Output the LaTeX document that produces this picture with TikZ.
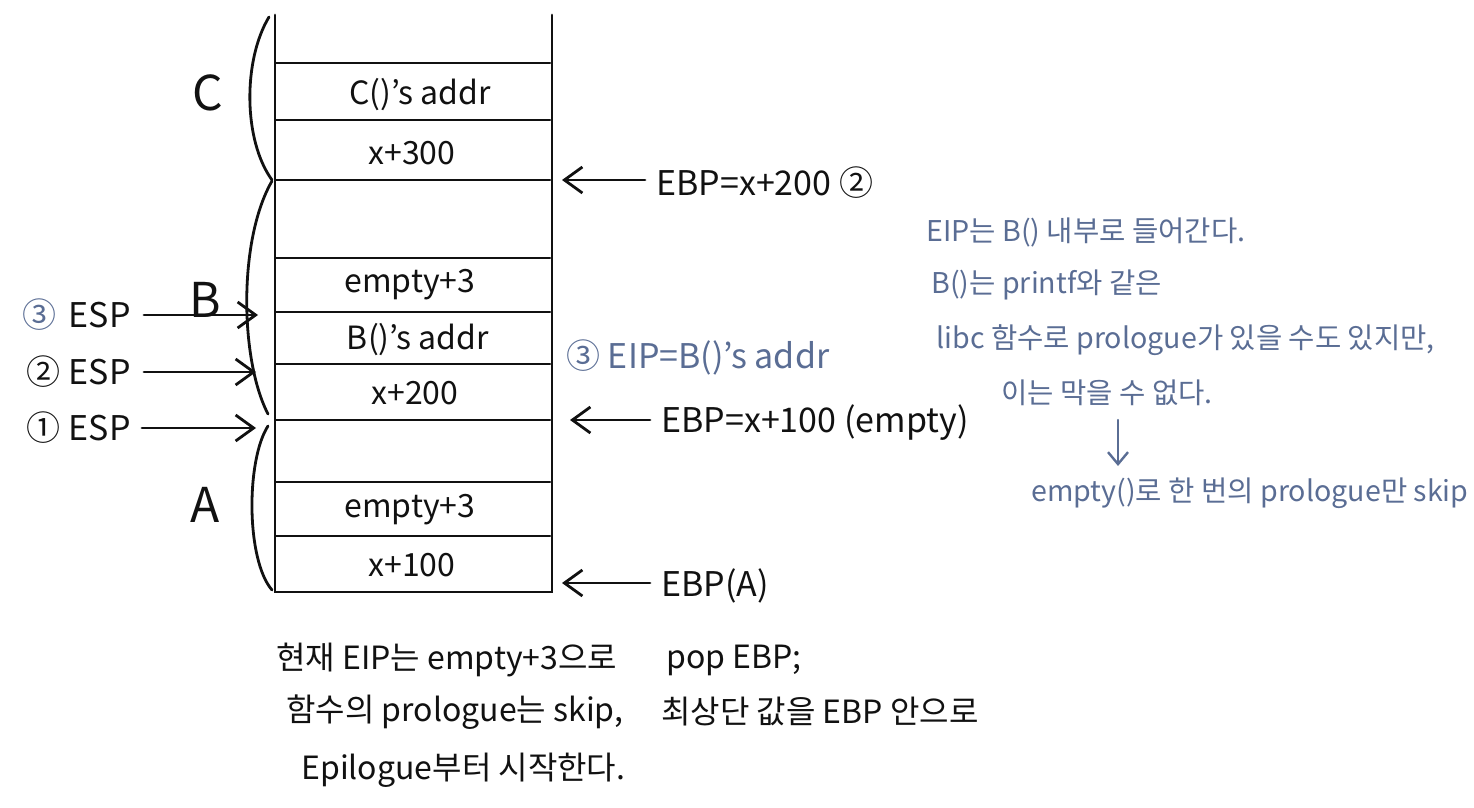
\documentclass[tikz,border=0pt]{standalone}
\usepackage{fontspec}
\setmainfont{Noto Sans CJK KR}
\usetikzlibrary{arrows.meta}
\definecolor{ink}{HTML}{111111}
\definecolor{pen}{HTML}{5A6D94}
\begin{document}
\begin{tikzpicture}[x=0.5pt,y=-0.5pt, line width=1.4pt, line cap=round, color=ink,
 cell/.style={font=\fontsize{16}{18}\selectfont, inner sep=0pt},
 lbl/.style={font=\fontsize{17}{19}\selectfont, anchor=west, inner sep=0pt},
 big/.style={font=\fontsize{24}{26}\selectfont, inner sep=0pt},
 note/.style={font=\fontsize{14.3}{16}\selectfont, anchor=west, inner sep=0pt, text=pen},
 bnote/.style={font=\fontsize{16}{18}\selectfont, anchor=west, inner sep=0pt},
 ptr/.style={-{Straight Barb[length=9pt,width=13pt]}},
]
\useasboundingbox (0,0) rectangle (1474,808);
% stack frame
\draw (275,15) -- (275,592) -- (552,592) -- (552,15);
\foreach \y in {63,120,180,258,312,364,420,482,536} \draw (276,\y) -- (550,\y);
% cells
\node[cell] (c1) at (420,95) {C()'s addr};
\node[cell] (c2) at (412,153) {x+300};
\node[cell] (c3) at (410,285) {empty+3};
\node[cell] (c4) at (418,340) {B()'s addr};
\node[cell] (c5) at (415,393) {x+200};
\node[cell] (c6) at (410,510) {empty+3};
\node[cell] (c7) at (412,565) {x+100};
% braces
\draw (269,17) .. controls (243,60) and (243,140) .. (272,180);
\draw (272,181) .. controls (238,240) and (240,360) .. (268,414);
\draw (268,426) .. controls (246,460) and (246,560) .. (272,590);
\node[big] (lc) at (208,93) {C};
\node[big] (lb) at (205,300) {B};
\node[big] (la) at (205,505) {A};
% ESP pointers
\coordinate (s3) at (258,315);
\coordinate (s2) at (256,372);
\coordinate (s1) at (256,428);
\node[lbl, anchor=east] (esp3) at (132,315) {{\color{pen}③}\hspace{6pt}ESP};
\node[lbl, anchor=east] (esp2) at (132,372) {②\hspace{4pt}ESP};
\node[lbl, anchor=east] (esp1) at (132,428) {①\hspace{4pt}ESP};
\draw[ptr, shorten <=6pt] (esp3) -- (s3);
\draw[ptr, shorten <=6pt] (esp2) -- (s2);
\draw[ptr, shorten <=5pt] (esp1) -- (s1);
% EBP pointers
\coordinate (t2) at (562,180);
\coordinate (t1) at (570,420);
\coordinate (t0) at (562,583);
\node[lbl] (ebp2) at (655,183) {EBP=x+200 ②};
\node[lbl] (ebp1) at (660,423) {EBP=x+100 (empty)};
\node[lbl] (ebpa) at (660,586) {EBP(A)};
\draw[ptr, shorten <=5pt] (ebp2.west |- t2) -- (t2);
\draw[ptr, shorten <=5pt] (ebp1.west |- t1) -- (t1);
\draw[ptr, shorten <=5pt] (ebpa.west |- t0) -- (t0);
\node[lbl, text=pen] (eip) at (565,357) {③ EIP=B()'s addr};
% blue notes
\node[note] (n1) at (925,232) {EIP는 B() 내부로 들어간다.};
\node[note] (n2) at (930,285) {B()는 printf와 같은};
\node[note] (n3) at (935,340) {libc 함수로 prologue가 있을 수도 있지만,};
\node[note] (n4) at (1000,393) {이는 막을 수 없다.};
\node[note] (n5) at (1030,493) {empty()로 한 번의 prologue만 skip};
\coordinate (d1) at (1118,420);
\coordinate (d2) at (1118,466);
\draw[ptr, pen, line width=1.2pt, -{Straight Barb[length=6pt,width=10pt]}] (d1) -- (d2);
% bottom notes
\node[bnote] (b1) at (275,660) {현재 EIP는 empty+3으로};
\node[bnote] (b2) at (285,712) {함수의 prologue는 skip,};
\node[bnote] (b3) at (300,770) {Epilogue부터 시작한다.};
\node[bnote] (b4) at (665,660) {pop EBP;};
\node[bnote] (b5) at (660,712) {최상단 값을 EBP 안으로};
\end{tikzpicture}
\end{document}
